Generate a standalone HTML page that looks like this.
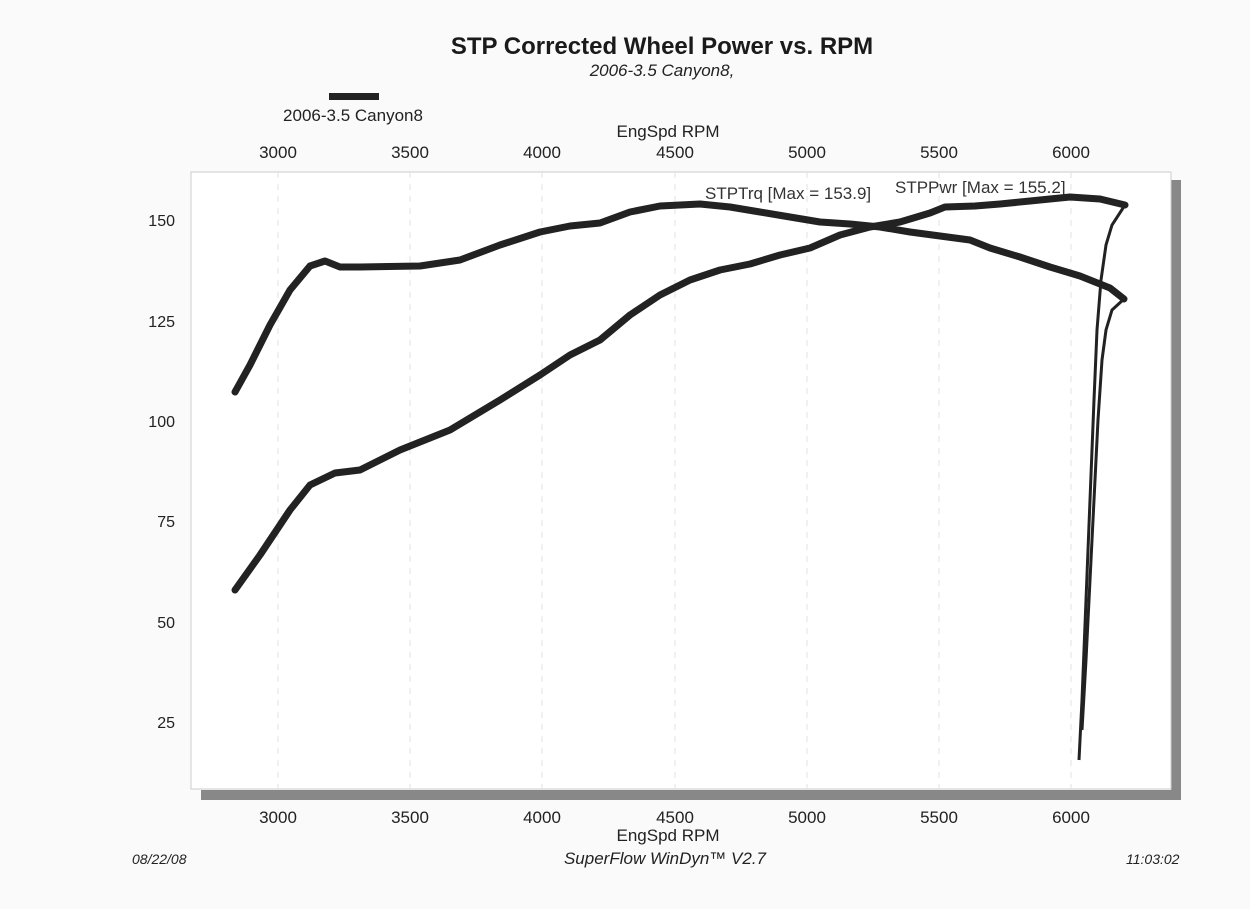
<!DOCTYPE html>
<html><head><style>
body{margin:0;background:#fafafa;}
svg{display:block;font-family:"Liberation Sans",sans-serif;}
</style></head><body>
<svg width="1250" height="909" viewBox="0 0 1250 909">
<rect x="0" y="0" width="1250" height="909" fill="#fafafa"/>
<text x="662" y="54" font-size="24" font-weight="bold" text-anchor="middle" fill="#1a1a1a">STP Corrected Wheel Power vs. RPM</text>
<text x="662" y="76" font-size="17" font-style="italic" text-anchor="middle" fill="#222">2006-3.5 Canyon8,</text>
<rect x="329" y="93" width="50" height="7" fill="#222"/>
<text x="353" y="121" font-size="17" text-anchor="middle" fill="#222">2006-3.5 Canyon8</text>
<text x="668" y="137" font-size="17" text-anchor="middle" fill="#222">EngSpd  RPM</text>
<g font-size="17" fill="#222" text-anchor="middle">
<text x="278" y="158">3000</text><text x="410" y="158">3500</text><text x="542" y="158">4000</text><text x="675" y="158">4500</text><text x="807" y="158">5000</text><text x="939" y="158">5500</text><text x="1071" y="158">6000</text>
<text x="278" y="823">3000</text><text x="410" y="823">3500</text><text x="542" y="823">4000</text><text x="675" y="823">4500</text><text x="807" y="823">5000</text><text x="939" y="823">5500</text><text x="1071" y="823">6000</text>
<text x="668" y="841">EngSpd  RPM</text>
</g>
<g font-size="16" fill="#222" text-anchor="end">
<text x="175" y="226">150</text><text x="175" y="327">125</text><text x="175" y="427">100</text><text x="175" y="527">75</text><text x="175" y="628">50</text><text x="175" y="728">25</text>
</g>
<rect x="1171" y="180" width="10" height="620" fill="#888"/>
<rect x="201" y="790" width="980" height="10" fill="#888"/>
<rect x="191" y="172" width="980" height="617" fill="#fff" stroke="#ccc" stroke-width="1"/>
<g stroke="#e2e2e2" stroke-width="1" stroke-dasharray="6,6">
<line x1="278" y1="172" x2="278" y2="789"/><line x1="410" y1="172" x2="410" y2="789"/><line x1="542" y1="172" x2="542" y2="789"/><line x1="675" y1="172" x2="675" y2="789"/><line x1="807" y1="172" x2="807" y2="789"/><line x1="939" y1="172" x2="939" y2="789"/><line x1="1071" y1="172" x2="1071" y2="789"/>
</g>
<text x="705" y="199" font-size="17" fill="#333">STPTrq [Max = 153.9]</text>
<text x="895" y="193" font-size="17" fill="#333">STPPwr [Max = 155.2]</text>
<g fill="none" stroke="#222" stroke-width="7" stroke-linejoin="round" stroke-linecap="round">
<polyline points="235,392 250,365 270,325 290,290 310,266 325,261 340,267 360,267 420,266 460,260 500,245 540,232 570,226 600,223 630,212 660,206 700,204 730,207 760,212 790,217 820,222 850,224 880,227 910,232 940,236 970,240 990,248 1020,257 1050,267 1080,276 1110,288 1124,299"/>
<polyline points="235,590 260,555 290,510 310,485 335,473 360,470 400,450 450,430 500,400 540,375 570,355 600,340 630,315 660,295 690,280 720,270 750,264 780,255 810,248 840,235 870,227 900,222 930,213 945,207 975,206 1000,204 1030,201 1070,197 1100,199 1125,205"/>
</g>
<g fill="none" stroke="#222" stroke-width="3">
<polyline points="1125,205 1112,225 1106,245 1101,280 1097,330 1094,400 1090,500 1086,600 1082,700 1079,760"/>
<polyline points="1124,299 1112,310 1106,330 1102,360 1098,420 1094,500 1090,580 1086,660 1082,730"/>
</g>
<g font-size="14" font-style="italic" fill="#222">
<text x="132" y="864">08/22/08</text>
<text x="665" y="864" font-size="17" text-anchor="middle">SuperFlow WinDyn™ V2.7</text>
<text x="1126" y="864">11:03:02</text>
</g>
</svg>
</body></html>
